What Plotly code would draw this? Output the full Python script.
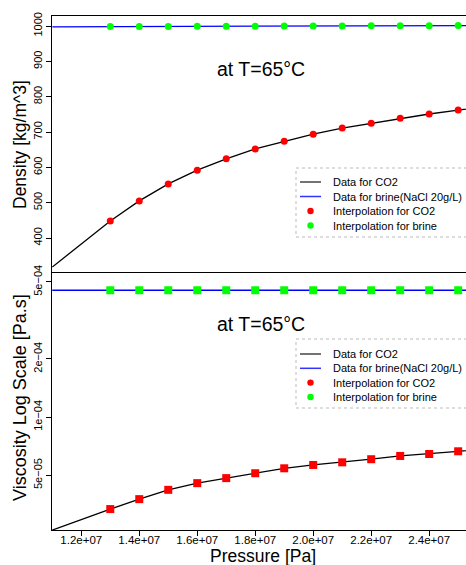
import plotly.graph_objects as go

# ---------------- data ----------------
interp_pressure = [1.3e7, 1.4e7, 1.5e7, 1.6e7, 1.7e7, 1.8e7, 1.9e7, 2.0e7, 2.1e7, 2.2e7, 2.3e7, 2.4e7, 2.5e7]
co2_density_interp = [448, 505, 553, 592, 624, 652, 674, 694, 711, 725, 739, 751, 762]
brine_density_interp = [998.3, 998.5, 998.8, 999.0, 999.3, 999.5, 999.8, 1000.0, 1000.3, 1000.5, 1000.8, 1001.0, 1001.3]
co2_visc_interp = [3.34e-5, 3.76e-5, 4.20e-5, 4.55e-5, 4.83e-5, 5.12e-5, 5.43e-5, 5.65e-5, 5.83e-5, 6.05e-5, 6.29e-5, 6.44e-5, 6.65e-5]
brine_visc_interp = [4.53e-4] * 13

data_pressure = [1.1e7, 1.2e7, 1.3e7, 1.4e7, 1.5e7, 1.6e7, 1.7e7, 1.8e7, 1.9e7, 2.0e7, 2.1e7, 2.2e7, 2.3e7, 2.4e7, 2.5e7, 2.6e7]
co2_density_data = [318, 383, 448, 505, 553, 592, 624, 652, 674, 694, 711, 725, 739, 751, 762, 772]
brine_density_data = [997.8, 998.0, 998.3, 998.5, 998.8, 999.0, 999.3, 999.5, 999.8, 1000.0, 1000.3, 1000.5, 1000.8, 1001.0, 1001.3, 1001.5]
co2_visc_data = [2.60e-5, 2.95e-5, 3.34e-5, 3.76e-5, 4.20e-5, 4.55e-5, 4.83e-5, 5.12e-5, 5.43e-5, 5.65e-5, 5.83e-5, 6.05e-5, 6.29e-5, 6.44e-5, 6.65e-5, 6.85e-5]
brine_visc_data = [4.53e-4] * 16

x_tickvals = [1.2e7, 1.4e7, 1.6e7, 1.8e7, 2.0e7, 2.2e7, 2.4e7]
x_ticktext = ["1.2e+07", "1.4e+07", "1.6e+07", "1.8e+07", "2.0e+07", "2.2e+07", "2.4e+07"]
dens_tickvals = [400, 500, 600, 700, 800, 900, 1000]
dens_ticktext = ["400", "500", "600", "700", "800", "900", "1000"]
visc_tickvals = [5e-5, 1e-4, 2e-4, 5e-4]
visc_ticktext = ["5e\u221205", "1e\u221204", "2e\u221204", "5e\u221204"]

legend_labels = ["Data for CO2", "Data for brine(NaCl 20g/L)", "Interpolation for CO2", "Interpolation for brine"]
title_text = "at T=65\u00b0C"

# ---------------- layout geometry ----------------
W, H = 466, 565
L, R, T, B = 52, 0, 16, 35
PW, PH = W - L - R, H - T - B
FONT = "Liberation Sans, Arial, Helvetica, sans-serif"

def px_x(p):
    return (p - L) / PW

def px_y(p):
    return (H - B - p) / PH

BLACK = "#000000"
BLUE = "#0000FF"
RED = "#FF0000"
GREEN = "#00FF00"

fig = go.Figure()

# top panel (density)
fig.add_trace(go.Scatter(x=data_pressure, y=co2_density_data, mode="lines",
                         line=dict(color=BLACK, width=1.3), xaxis="x2", yaxis="y2", showlegend=False))
fig.add_trace(go.Scatter(x=data_pressure, y=brine_density_data, mode="lines",
                         line=dict(color=BLUE, width=1.3), xaxis="x2", yaxis="y2", showlegend=False))
fig.add_trace(go.Scatter(x=interp_pressure, y=co2_density_interp, mode="markers",
                         marker=dict(color=RED, size=7, symbol="circle", line=dict(width=0)),
                         xaxis="x2", yaxis="y2", showlegend=False))
fig.add_trace(go.Scatter(x=interp_pressure, y=brine_density_interp, mode="markers",
                         marker=dict(color=GREEN, size=7, symbol="circle", line=dict(width=0)),
                         xaxis="x2", yaxis="y2", showlegend=False))

# bottom panel (viscosity)
fig.add_trace(go.Scatter(x=data_pressure, y=co2_visc_data, mode="lines",
                         line=dict(color=BLACK, width=1.3), xaxis="x", yaxis="y", showlegend=False))
fig.add_trace(go.Scatter(x=data_pressure, y=brine_visc_data, mode="lines",
                         line=dict(color=BLUE, width=1.3), xaxis="x", yaxis="y", showlegend=False))
fig.add_trace(go.Scatter(x=interp_pressure, y=co2_visc_interp, mode="markers",
                         marker=dict(color=RED, size=8, symbol="square", line=dict(width=0)),
                         xaxis="x", yaxis="y", showlegend=False))
fig.add_trace(go.Scatter(x=interp_pressure, y=brine_visc_interp, mode="markers",
                         marker=dict(color=GREEN, size=8, symbol="square", line=dict(width=0)),
                         xaxis="x", yaxis="y", showlegend=False))

x_range = [1.099e7, 2.527e7]
axis_common = dict(showgrid=False, zeroline=False, showline=True, linecolor=BLACK, linewidth=1)

fig.update_layout(
    width=W, height=H,
    margin=dict(l=L, r=R, t=T, b=B),
    paper_bgcolor="white", plot_bgcolor="white",
    font=dict(family=FONT, color=BLACK, size=11),
    showlegend=False,
    xaxis=dict(domain=[0, 1], anchor="y", range=x_range, mirror=True,
               ticks="outside", ticklen=5, tickcolor=BLACK,
               tickvals=x_tickvals, ticktext=x_ticktext, ticklabelstandoff=-6,
               tickfont=dict(size=11.5, family=FONT), **axis_common),
    yaxis=dict(domain=[0, 0.5], anchor="x", type="log", range=[-4.5845, -3.2546],
               ticks="outside", ticklen=5, tickcolor=BLACK,
               tickvals=visc_tickvals, ticktext=visc_ticktext, tickangle=-90,
               tickfont=dict(size=11, family=FONT), **axis_common),
    xaxis2=dict(domain=[0, 1], anchor="y2", range=x_range, side="top",
                showticklabels=False, ticks="", **axis_common),
    yaxis2=dict(domain=[0.5, 1], anchor="x2", range=[301, 1028.3],
                ticks="outside", ticklen=5, tickcolor=BLACK,
                tickvals=dens_tickvals, ticktext=dens_ticktext, tickangle=-90,
                tickfont=dict(size=11, family=FONT), **axis_common),
)

annotations = []
shapes = []

# axis titles
annotations.append(dict(text="Pressure [Pa]", x=px_x(262.5), y=px_y(556), xref="paper", yref="paper",
                        showarrow=False, font=dict(size=17.5, family=FONT), xanchor="center", yanchor="middle"))
annotations.append(dict(text="Density [kg/m^3]", x=px_x(19.5), y=px_y(144.5), xref="paper", yref="paper",
                        showarrow=False, textangle=-90, font=dict(size=17.5, family=FONT),
                        xanchor="center", yanchor="middle"))
annotations.append(dict(text="Viscosity Log Scale [Pa.s]", x=px_x(19.5), y=px_y(397.5), xref="paper", yref="paper",
                        showarrow=False, textangle=-90, font=dict(size=18, family=FONT),
                        xanchor="center", yanchor="middle"))

# panel texts
for ty in (69, 324):
    annotations.append(dict(text=title_text, x=px_x(261), y=px_y(ty), xref="paper", yref="paper",
                            showarrow=False, font=dict(size=19.5, family=FONT), xanchor="center", yanchor="middle"))

# manual legends
def add_legend(box_top, box_bottom, rows):
    shapes.append(dict(type="rect", xref="paper", yref="paper",
                       x0=px_x(296), x1=px_x(470), y0=px_y(box_bottom), y1=px_y(box_top),
                       line=dict(color="#BBBBBB", width=1, dash="dot"), fillcolor="rgba(0,0,0,0)"))
    styles = [("line", "#444444"), ("line", "#3333FF"), ("dot", RED), ("dot", GREEN)]
    for (kind, col), label, ry in zip(styles, legend_labels, rows):
        if kind == "line":
            shapes.append(dict(type="line", xref="paper", yref="paper",
                               x0=px_x(300), x1=px_x(321), y0=px_y(ry), y1=px_y(ry),
                               line=dict(color=col, width=1.5)))
        else:
            shapes.append(dict(type="circle", xref="paper", yref="paper",
                               xsizemode="pixel", ysizemode="pixel",
                               xanchor=px_x(310.5), yanchor=px_y(ry),
                               x0=-3.2, x1=3.2, y0=-3.2, y1=3.2,
                               fillcolor=col, line=dict(width=0)))
        annotations.append(dict(text=label, x=px_x(331), y=px_y(ry), xref="paper", yref="paper",
                                showarrow=False, font=dict(size=11, family=FONT),
                                xanchor="left", yanchor="middle"))

add_legend(168, 237, [182, 196.5, 211, 225.5])
add_legend(339, 408, [354, 368.3, 382.6, 397])

fig.update_layout(annotations=annotations, shapes=shapes)

fig.write_html("out.html", config={"displayModeBar": False},
               post_script="document.body.style.margin='0';document.body.style.overflow='hidden';")
